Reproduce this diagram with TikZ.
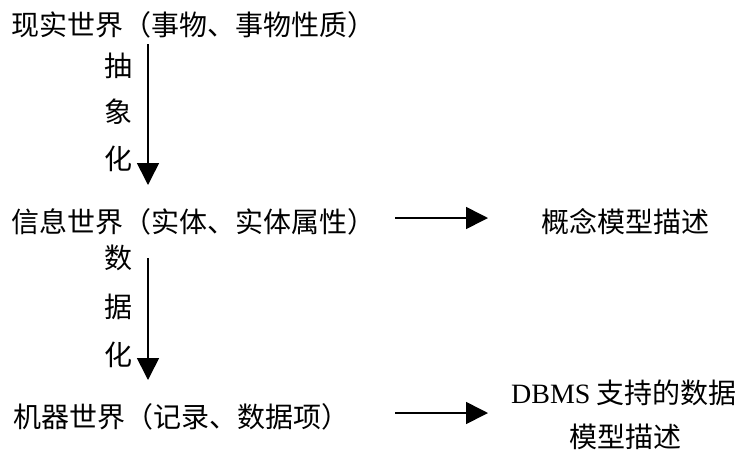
\documentclass[tikz,border=0pt]{standalone}
\usepackage{fontspec}
\setmainfont{Noto Sans CJK SC}
\newfontfamily\lat{Liberation Serif}
\usetikzlibrary{arrows.meta}
\tikzset{
  txt/.style={inner sep=0pt, font=\fontsize{28}{33}\selectfont},
  arr/.style={line width=1.6pt, -{Triangle[length=22pt,width=22pt]}}
}
\begin{document}
\begin{tikzpicture}[x=1pt,y=-1pt]
\useasboundingbox (0,0) rectangle (741,459);
\node[txt,anchor=west] (t1) at (11,25) {现实世界（事物、事物性质）};
\node[txt,anchor=west] (t2) at (11,222) {信息世界（实体、实体属性）};
\node[txt,anchor=west] (t3) at (13,417) {机器世界（记录、数据项）};
\node[txt] (c1) at (118,66) {抽};
\node[txt] (c2) at (118,112) {象};
\node[txt] (c3) at (118,159) {化};
\node[txt] (d1) at (118,258) {数};
\node[txt] (d2) at (118,307) {据};
\node[txt] (d3) at (118,355) {化};
\node[txt] (m1) at (625,222) {概念模型描述};
\node[txt] (m2) at (624,393) {{\lat DBMS} 支持的数据};
\node[txt] (m3) at (625,437) {模型描述};
\coordinate (v1a) at (148,44);
\coordinate (v1b) at (148,185);
\coordinate (v2a) at (148,258);
\coordinate (v2b) at (148,380);
\coordinate (h1a) at (395,218);
\coordinate (h1b) at (488,218);
\coordinate (h2a) at (395,413);
\coordinate (h2b) at (488,413);
\draw[arr] (v1a) -- (v1b);
\draw[arr] (v2a) -- (v2b);
\draw[arr] (h1a) -- (h1b);
\draw[arr] (h2a) -- (h2b);
\end{tikzpicture}
\end{document}
